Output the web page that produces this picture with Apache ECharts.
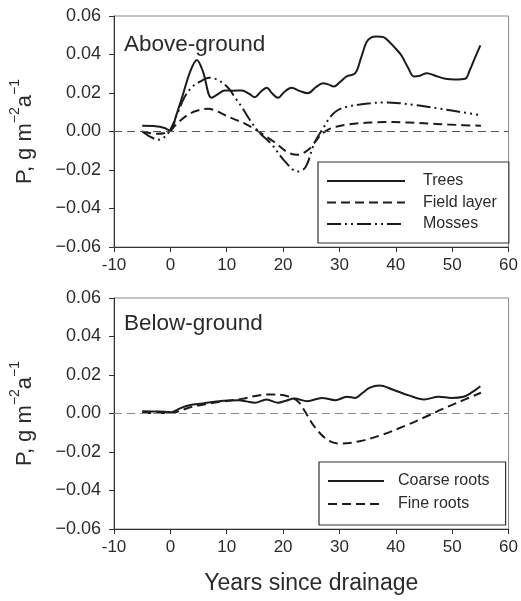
<!DOCTYPE html>
<html><head><meta charset="utf-8">
<script src="https://cdn.jsdelivr.net/npm/echarts@6/dist/echarts.min.js"></script>
<style>html,body{margin:0;padding:0;background:#fff}#c{width:521px;height:601px}</style>
</head><body><div id="c"></div>
<script>
// ---- data (years since drainage, P in g m^-2 a^-1) ----
var treesX = [-5, -3, -1, 0, 1, 2, 3.5, 4.7, 5.8, 7.3, 8.5, 9.6, 11, 12.7, 14, 15, 16, 17.1, 18, 19.1, 20.2, 21.5, 23, 24.4, 25.8, 27.1, 28, 29, 30.2, 31.3, 32.8, 33.8, 34.8, 35.6, 36.6, 37.8, 38.9, 40, 41, 42.2, 43.2, 44.3, 45.5, 47, 48.8, 50.5, 52.3, 53.1, 54, 55];
var treesY = [0.003, 0.0028, 0.0018, 0.0003, 0.008, 0.017, 0.031, 0.0372, 0.031, 0.0175, 0.0195, 0.0213, 0.0212, 0.0213, 0.0195, 0.0178, 0.0205, 0.0227, 0.020, 0.0175, 0.0205, 0.0227, 0.021, 0.0199, 0.023, 0.0251, 0.0245, 0.0234, 0.026, 0.0286, 0.0303, 0.038, 0.0464, 0.0488, 0.0494, 0.049, 0.0464, 0.043, 0.0395, 0.033, 0.0286, 0.029, 0.0303, 0.029, 0.0274, 0.027, 0.0274, 0.0317, 0.038, 0.0447];
var fieldX = [-5, -2.4, -0.3, 1.5, 3.4, 5, 6.75, 8.3, 9.8, 11.5, 13.3, 15.6, 18.5, 20.8, 22.6, 24.3, 25.5, 26.6, 28, 29.6, 31.5, 33.6, 36, 38.3, 41, 43.5, 46.5, 49.3, 52, 55.1];
var fieldY = [0, -0.0012, 0, 0.005, 0.0092, 0.011, 0.0118, 0.0105, 0.0083, 0.0062, 0.004, 0, -0.0056, -0.0108, -0.0121, -0.0099, -0.006, -0.0021, 0.001, 0.0026, 0.0036, 0.0043, 0.0047, 0.005, 0.0048, 0.0045, 0.004, 0.0036, 0.0033, 0.003];
var mossX = [-5, -2.1, -0.3, 1.2, 2.5, 3.8, 5.1, 6.9, 8.6, 10.4, 11.5, 12.7, 14, 15.6, 17.9, 20.2, 22.6, 24, 25.5, 27.2, 28.5, 29.8, 31.5, 33.6, 35.5, 37.7, 40.6, 43, 45.3, 47.5, 49.9, 52, 54.6];
var mossY = [0, -0.0043, -0.0005, 0.009, 0.0178, 0.023, 0.0256, 0.0279, 0.0265, 0.0222, 0.0175, 0.0126, 0.0065, 0, -0.0064, -0.0151, -0.0208, -0.0185, -0.0064, 0.0022, 0.008, 0.0113, 0.013, 0.014, 0.0147, 0.0151, 0.0147, 0.0139, 0.013, 0.012, 0.0109, 0.0099, 0.0087];
var coarseX = [-5, -2, 0.2, 1.8, 3.4, 5.7, 8.6, 10.5, 12.1, 13.5, 15, 17.05, 19.1, 20.5, 22, 24.3, 26.9, 29.3, 31.3, 32.8, 34, 35.4, 37.1, 39.4, 42.3, 45, 47.6, 49.9, 52, 53.4, 55];
var coarseY = [0.0012, 0.001, 0.0007, 0.0028, 0.0043, 0.0052, 0.0064, 0.0068, 0.0069, 0.0063, 0.0056, 0.0073, 0.0056, 0.0066, 0.0078, 0.0064, 0.0081, 0.0069, 0.0087, 0.0081, 0.0105, 0.0134, 0.0145, 0.0125, 0.0094, 0.0073, 0.0087, 0.0081, 0.0087, 0.0108, 0.0142];
var fineX = [-5, -2, 0.2, 1.8, 3.4, 6, 8.6, 12.7, 15.6, 17.9, 20.8, 22.6, 24, 25.5, 27.8, 30.1, 33.6, 37.7, 41.8, 45.3, 48.8, 52.3, 55.1];
var fineY = [0.0003, 0.0003, 0.0002, 0.0015, 0.0031, 0.0047, 0.006, 0.0076, 0.0094, 0.0099, 0.009, 0.0064, 0.0005, -0.0066, -0.0135, -0.0156, -0.0144, -0.0109, -0.0062, -0.0017, 0.003, 0.0073, 0.0108];
var xTicks = [-10, 0, 10, 20, 30, 40, 50, 60];
var yTicks = [-0.06, -0.04, -0.02, 0.00, 0.02, 0.04, 0.06];
var topNames = ['Trees', 'Field layer', 'Mosses'];
var bottomNames = ['Coarse roots', 'Fine roots'];

function pairs(xs, ys) { return xs.map(function (x, i) { return [x, ys[i]]; }); }

var FONT = '"Liberation Sans", Arial, sans-serif';
var TXT = '#2b2b2b';
var LINE = '#1c1c1c';

function xAxisCfg(gi, withName) {
  var a = {
    type: 'value', gridIndex: gi, min: xTicks[0], max: xTicks[xTicks.length - 1], interval: 10,
    axisLine: { onZero: false, lineStyle: { color: '#333', width: 1 } },
    axisTick: { show: true, length: 5, inside: false, lineStyle: { color: '#333' } },
    splitLine: { show: false },
    axisLabel: { color: TXT, fontFamily: FONT, fontSize: 17, margin: 10 }
  };
  if (withName) {
    a.name = 'Years since drainage';
    a.nameLocation = 'middle';
    a.nameGap = 43;
    a.nameTextStyle = { color: TXT, fontFamily: FONT, fontSize: 23 };
  }
  return a;
}
function yAxisCfg(gi) {
  return {
    type: 'value', gridIndex: gi, min: yTicks[0], max: yTicks[yTicks.length - 1], interval: 0.02,
    axisLine: { onZero: false, lineStyle: { color: '#333', width: 1 } },
    axisTick: { show: true, length: 5, inside: false, lineStyle: { color: '#333' } },
    splitLine: { show: false },
    axisLabel: { color: TXT, fontFamily: FONT, fontSize: 18, margin: 13,
      formatter: function (v) { return v.toFixed(2).replace('-', '\u2212'); } },
    name: '{a|P, g m}{s|\u22122}{a|a}{s|\u22121}',
    nameLocation: 'middle', nameGap: 78,
    nameTextStyle: { color: TXT, fontFamily: FONT, fontSize: 22,
      rich: {
        a: { fontFamily: FONT, fontSize: 22, color: TXT, verticalAlign: 'bottom', lineHeight: 28 },
        s: { fontFamily: FONT, fontSize: 14, color: TXT, verticalAlign: 'top', lineHeight: 28 }
      } }
  };
}
function lineSeries(name, data, xi, yi, type, zeroLine, zeroColor) {
  var s = {
    name: name, type: 'line', xAxisIndex: xi, yAxisIndex: yi, data: data,
    smooth: 0.35, symbol: 'none', silent: true,
    lineStyle: { color: LINE, width: 2, type: type },
    itemStyle: { color: LINE }
  };
  if (zeroLine) {
    s.markLine = { silent: true, symbol: 'none', label: { show: false },
      lineStyle: { color: zeroColor, width: 1, type: [8, 5] }, data: [{ yAxis: 0 }], animation: false };
  }
  return s;
}
var dashed = [9, 5];
var dashDotDot = [14, 4, 2, 4, 2, 4];

var chart = echarts.init(document.getElementById('c'), null, { renderer: 'canvas' });
chart.setOption({
  animation: false,
  backgroundColor: '#fff',
  grid: [
    { left: 110, top: 16, width: 401, height: 231, show: true, borderColor: '#8a8a8a', borderWidth: 1, backgroundColor: 'transparent' },
    { left: 110, top: 298, width: 401, height: 231, show: true, borderColor: '#8a8a8a', borderWidth: 1, backgroundColor: 'transparent' }
  ],
  title: [
    { text: 'Above-ground', left: 119, top: 28, textStyle: { color: TXT, fontFamily: FONT, fontSize: 22.5, fontWeight: 'normal' } },
    { text: 'Below-ground', left: 119, top: 307, textStyle: { color: TXT, fontFamily: FONT, fontSize: 22.5, fontWeight: 'normal' } }
  ],
  xAxis: [xAxisCfg(0, false), xAxisCfg(1, true)],
  yAxis: [yAxisCfg(0), yAxisCfg(1)],
  legend: [
    { data: topNames, orient: 'vertical', left: 318, top: 162, itemWidth: 78, itemHeight: 14, itemGap: 5.5,
      padding: [11, 12, 11, 8], borderColor: '#333', borderWidth: 1.2, backgroundColor: '#fff',
      itemStyle: { opacity: 0 },
      textStyle: { color: TXT, fontFamily: FONT, fontSize: 16, lineHeight: 16, padding: [0, 0, 0, 13] },
      selectedMode: false },
    { data: bottomNames, orient: 'vertical', left: 319, top: 462, itemWidth: 56, itemHeight: 14, itemGap: 7,
      padding: [11, 16, 13, 8], borderColor: '#333', borderWidth: 1.2, backgroundColor: '#fff',
      itemStyle: { opacity: 0 },
      textStyle: { color: TXT, fontFamily: FONT, fontSize: 16, lineHeight: 16, padding: [0, 0, 0, 9] },
      selectedMode: false }
  ],
  series: [
    lineSeries('Trees', pairs(treesX, treesY), 0, 0, 'solid', true, '#555'),
    lineSeries('Field layer', pairs(fieldX, fieldY), 0, 0, dashed),
    lineSeries('Mosses', pairs(mossX, mossY), 0, 0, dashDotDot),
    lineSeries('Coarse roots', pairs(coarseX, coarseY), 1, 1, 'solid', true, '#8a8a8a'),
    lineSeries('Fine roots', pairs(fineX, fineY), 1, 1, dashed)
  ]
});
</script></body></html>
